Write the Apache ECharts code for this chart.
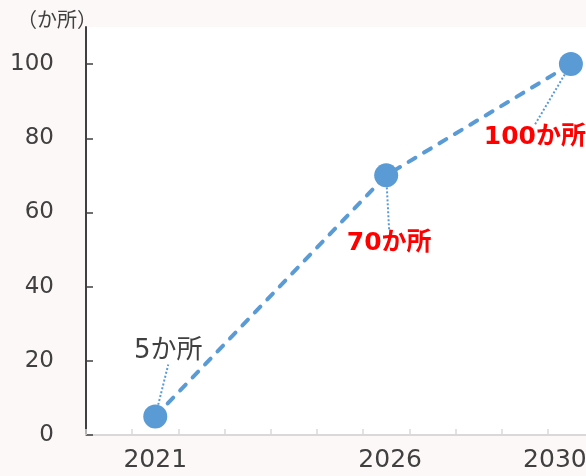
<!DOCTYPE html>
<html>
<head>
<meta charset="utf-8">
<script src="https://cdn.jsdelivr.net/npm/echarts@6/dist/echarts.min.js"></script>
<style>
  html, body { margin: 0; padding: 0; background: #fcf8f7; }
  #chart { width: 586px; height: 476px; }
</style>
</head>
<body>
<div id="chart"></div>
<script>
// Year slots along the x axis (one band per year)
const years = ['2020', '2021', '2022', '2023', '2024', '2025', '2026', '2027', '2028', '2029', '2030'];
// Years that carry a label under the axis
const labelledYears = ['2021', '2026', '2030'];
// Target counts (か所) at the milestone years
const pointYears = ['2021', '2026', '2030'];
const pointValues = [5, 70, 100];
const pointLabels = ['5か所', '70か所', '100か所'];
// Y axis tick values
const yTicks = [0, 20, 40, 60, 80, 100];

const FONT = '"DejaVu Sans", "Noto Sans CJK JP", sans-serif';
const BLUE = '#5b9bd5';

// Per-point label styling: shift from the marker, colour and weight
const labelStyles = [
  { dx: 13, dy: -65, color: '#404040', fontWeight: 'normal', fontSize: 26 },
  { dx: 3, dy: 68, color: '#ff0000', fontWeight: 'bold', fontSize: 25 },
  { dx: -36, dy: 73, color: '#ff0000', fontWeight: 'bold', fontSize: 25 }
];

const seriesData = pointYears.map((y, i) => ({
  value: [y, pointValues[i]],
  label: {
    show: true,
    position: 'inside',
    formatter: pointLabels[i],
    color: labelStyles[i].color,
    fontWeight: labelStyles[i].fontWeight,
    fontSize: labelStyles[i].fontSize,
    fontFamily: FONT,
    padding: [10, 8, 10, 8]
  }
}));

const axisLabelText = { fontSize: 25, color: '#404040', fontFamily: FONT };

const chart = echarts.init(document.getElementById('chart'), null, { renderer: 'canvas' });
chart.setOption({
  backgroundColor: '#fcf8f7',
  animation: false,
  title: {
    text: '（か所）',
    left: 12,
    top: 7,
    textStyle: { fontSize: 20, fontWeight: 'normal', color: '#404040', fontFamily: FONT }
  },
  grid: {
    left: 86, right: -8, top: 27, bottom: 41,
    outerBoundsMode: 'none',
    containLabel: false,
    show: true, backgroundColor: '#ffffff', borderWidth: 0
  },
  xAxis: {
    type: 'category',
    data: years,
    boundaryGap: true,
    axisLine: { show: true, lineStyle: { color: '#d9d9d9', width: 2 } },
    axisTick: { show: true, inside: true, length: 6, interval: 0, lineStyle: { color: '#d9d9d9', width: 1.5 } },
    axisLabel: {
      interval: (idx, val) => labelledYears.indexOf(val) >= 0,
      // the last year label is nudged left so it stays mostly inside the frame
      formatter: (val) => val === '2030' ? '{last|' + val + '}' : (val === '2026' ? '{mid|' + val + '}' : val),
      rich: {
        last: Object.assign({ padding: [0, 32, 0, 0] }, axisLabelText),
        mid: Object.assign({ padding: [0, 0, 0, 8] }, axisLabelText)
      },
      fontSize: 25, color: '#404040', fontFamily: FONT, margin: 13
    },
    splitLine: { show: false }
  },
  yAxis: {
    type: 'value',
    min: 0, max: 110, interval: 20,
    axisLine: { show: true, lineStyle: { color: '#404040', width: 2 } },
    axisTick: { show: true, inside: true, length: 7, customValues: yTicks, lineStyle: { color: '#404040', width: 1.5 } },
    axisLabel: { customValues: yTicks, fontSize: 23, color: '#404040', fontFamily: FONT, margin: 32 },
    splitLine: { show: false }
  },
  series: [{
    type: 'line',
    data: seriesData,
    symbol: 'circle',
    symbolSize: 24,
    itemStyle: { color: BLUE },
    lineStyle: { color: BLUE, width: 4, type: [8, 10], cap: 'round' },
    labelLayout: (params) => ({ dx: labelStyles[params.dataIndex].dx, dy: labelStyles[params.dataIndex].dy }),
    labelLine: { show: true, lineStyle: { color: BLUE, width: 2, type: [2, 2] } },
    z: 3
  }]
});
</script>
</body>
</html>
